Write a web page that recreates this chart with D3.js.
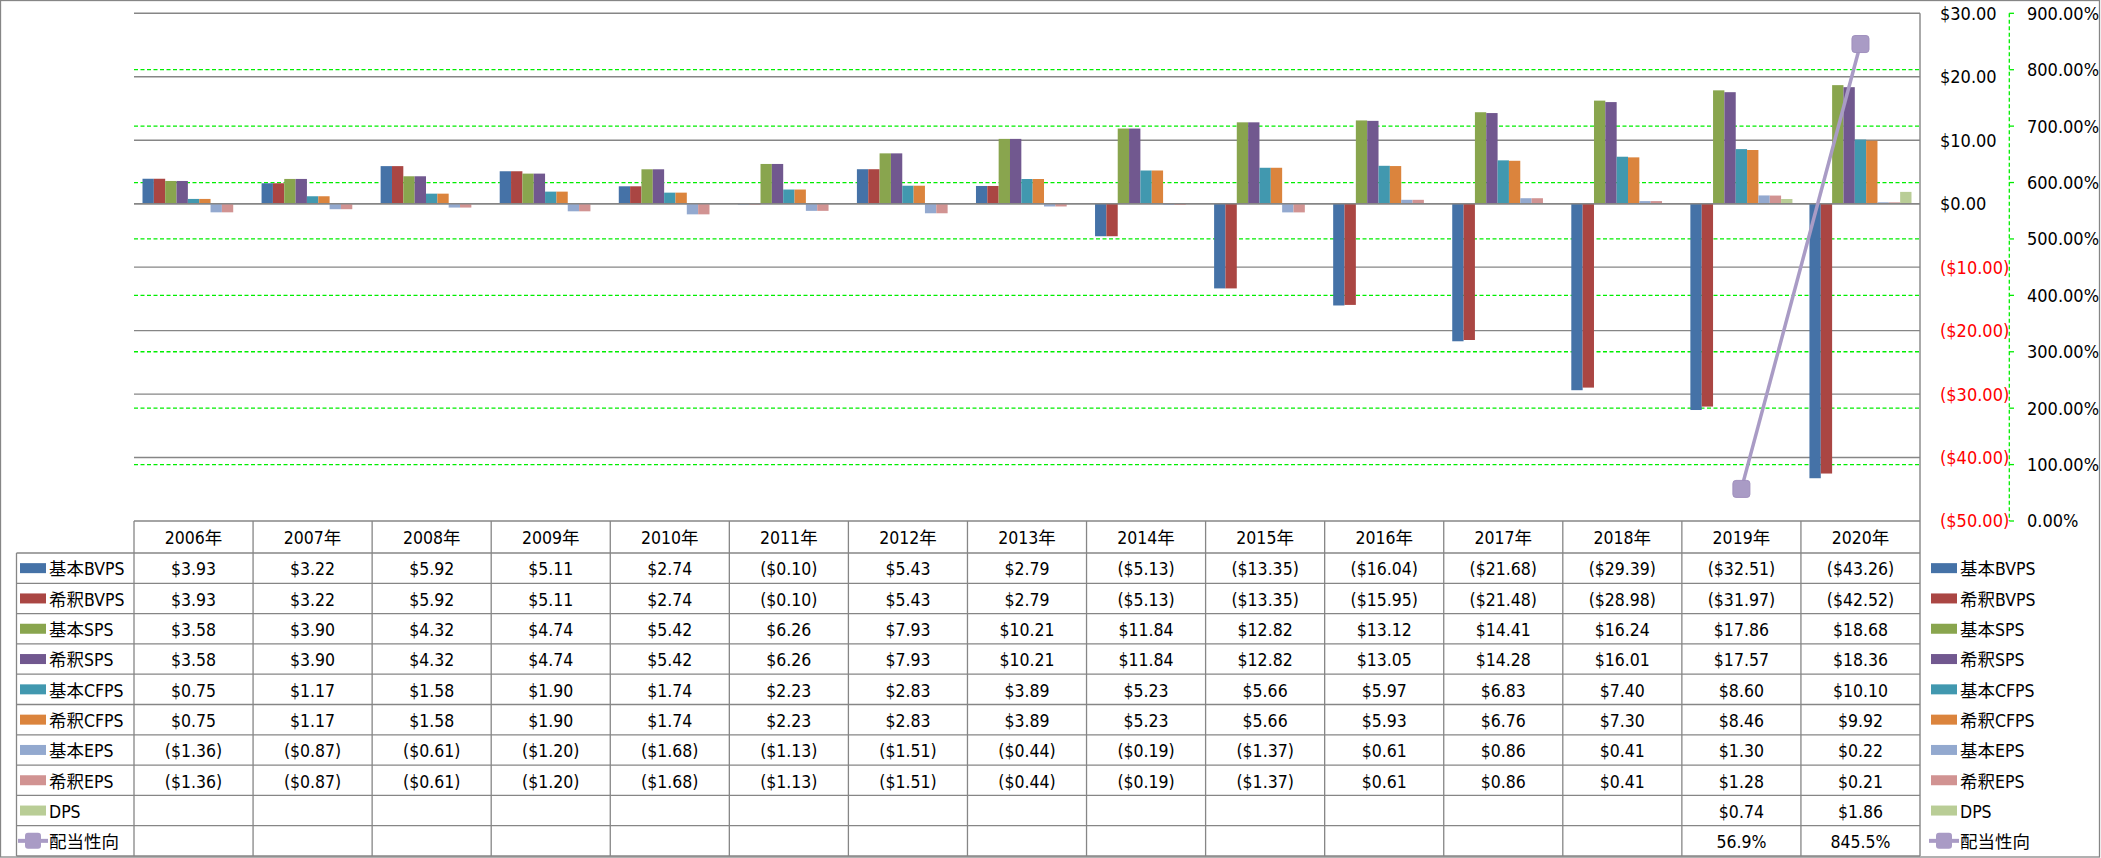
<!DOCTYPE html>
<html><head><meta charset="utf-8">
<script src="https://cdn.jsdelivr.net/npm/d3@7"></script>
<style>
html,body{margin:0;padding:0;background:#fff;}
svg{display:block;}
text{font-family:"DejaVu Sans Condensed","Noto Sans CJK JP",sans-serif;}
</style></head>
<body>
<svg id="chart" width="2101" height="858"></svg>
<script>
const years = ["2006年","2007年","2008年","2009年","2010年","2011年","2012年","2013年","2014年","2015年","2016年","2017年","2018年","2019年","2020年"];
const basicBVPS   = [3.93,3.22,5.92,5.11,2.74,-0.10,5.43,2.79,-5.13,-13.35,-16.04,-21.68,-29.39,-32.51,-43.26];
const dilutedBVPS = [3.93,3.22,5.92,5.11,2.74,-0.10,5.43,2.79,-5.13,-13.35,-15.95,-21.48,-28.98,-31.97,-42.52];
const basicSPS    = [3.58,3.90,4.32,4.74,5.42,6.26,7.93,10.21,11.84,12.82,13.12,14.41,16.24,17.86,18.68];
const dilutedSPS  = [3.58,3.90,4.32,4.74,5.42,6.26,7.93,10.21,11.84,12.82,13.05,14.28,16.01,17.57,18.36];
const basicCFPS   = [0.75,1.17,1.58,1.90,1.74,2.23,2.83,3.89,5.23,5.66,5.97,6.83,7.40,8.60,10.10];
const dilutedCFPS = [0.75,1.17,1.58,1.90,1.74,2.23,2.83,3.89,5.23,5.66,5.93,6.76,7.30,8.46,9.92];
const basicEPS    = [-1.36,-0.87,-0.61,-1.20,-1.68,-1.13,-1.51,-0.44,-0.19,-1.37,0.61,0.86,0.41,1.30,0.22];
const dilutedEPS  = [-1.36,-0.87,-0.61,-1.20,-1.68,-1.13,-1.51,-0.44,-0.19,-1.37,0.61,0.86,0.41,1.28,0.21];
const dps         = [null,null,null,null,null,null,null,null,null,null,null,null,null,0.74,1.86];
const payoutRatio = [null,null,null,null,null,null,null,null,null,null,null,null,null,56.9,845.5];

const seriesNames  = ["基本BVPS","希釈BVPS","基本SPS","希釈SPS","基本CFPS","希釈CFPS","基本EPS","希釈EPS","DPS"];
const seriesValues = [basicBVPS,dilutedBVPS,basicSPS,dilutedSPS,basicCFPS,dilutedCFPS,basicEPS,dilutedEPS,dps];
const seriesColors = ["#4572A7","#AA4643","#89A54E","#71588F","#4198AF","#DB843D","#93A9CF","#D19392","#B9CD96"];
const lineName = "配当性向";
const lineColor = "#A99BC5";

const leftTicks  = [30,20,10,0,-10,-20,-30,-40,-50];
const rightTicks = [900,800,700,600,500,400,300,200,100,0];

const svg = d3.select("#chart");
const L = 134, R = 1920, T = 13.3, B = 521;
const gray = "#868686";

const fmtMoney = v => v == null ? "" : (v < 0 ? "($" + Math.abs(v).toFixed(2) + ")" : "$" + v.toFixed(2));
const fmtPct = v => v == null ? "" : v.toFixed(1) + "%";

const x = d3.scaleBand().domain(years).range([L, R]).paddingInner(0).paddingOuter(0);
const xs = d3.scaleBand().domain(seriesNames).range([0, x.bandwidth()]).paddingInner(0).paddingOuter(0.75);
const y = d3.scaleLinear().domain([-50, 30]).range([B, T]);
const y2 = d3.scaleLinear().domain([0, 900]).range([B, T]);

// outer border
svg.append("rect").attr("x",0.5).attr("y",0.5).attr("width",2099).attr("height",856.5)
  .attr("fill","none").attr("stroke",gray).attr("stroke-width",1.3);

// primary gridlines
svg.append("g").selectAll("line").data(leftTicks.filter(t => t > -50)).join("line")
  .attr("x1",L).attr("x2",R).attr("y1",d=>y(d)).attr("y2",d=>y(d))
  .attr("stroke",gray).attr("stroke-width",1.4);
// secondary gridlines
svg.append("g").selectAll("line").data(rightTicks.filter(t => t > 0 && t < 900)).join("line")
  .attr("x1",L).attr("x2",R).attr("y1",d=>y2(d)).attr("y2",d=>y2(d))
  .attr("stroke","#00EE00").attr("stroke-width",1.3).attr("stroke-dasharray","4,2.5");

// bars
const gBars = svg.append("g");
seriesNames.forEach((name, si) => {
  gBars.append("g").selectAll("rect")
    .data(years.map((yr, i) => ({yr, v: seriesValues[si][i]})).filter(d => d.v != null))
    .join("rect")
    .attr("x", d => x(d.yr) + xs(name))
    .attr("width", xs.bandwidth())
    .attr("y", d => Math.min(y(d.v), y(0)))
    .attr("height", d => Math.abs(y(d.v) - y(0)))
    .attr("fill", seriesColors[si]);
});

// zero axis line on top
svg.append("line").attr("x1",L).attr("x2",R).attr("y1",y(0)).attr("y2",y(0)).attr("stroke",gray).attr("stroke-width",1.4);

// payout line
const linePts = years.map((yr,i)=>({yr, v: payoutRatio[i]})).filter(d=>d.v!=null);
svg.append("path").datum(linePts)
  .attr("d", d3.line().x(d=>x(d.yr)+x.bandwidth()/2).y(d=>y2(d.v)))
  .attr("fill","none").attr("stroke",lineColor).attr("stroke-width",3.5);
svg.append("g").selectAll("rect").data(linePts).join("rect")
  .attr("x",d=>x(d.yr)+x.bandwidth()/2-8.5).attr("y",d=>y2(d.v)-8.5)
  .attr("width",17).attr("height",17).attr("rx",3)
  .attr("fill",lineColor).attr("stroke","#A090BE").attr("stroke-width",1);

// right plot boundary / primary axis line
svg.append("line").attr("x1",R).attr("x2",R).attr("y1",T).attr("y2",856).attr("stroke",gray).attr("stroke-width",1.4);

// primary axis labels
svg.append("g").selectAll("text").data(leftTicks).join("text")
  .attr("x",1940).attr("y",d=>y(d)).attr("dy","0.36em")
  .attr("font-size",18).attr("fill",d=>d<0?"#FF0000":"#000")
  .text(d=>fmtMoney(d));

// secondary axis
svg.append("line").attr("x1",2009.3).attr("x2",2009.3).attr("y1",T).attr("y2",B)
  .attr("stroke","#00EE00").attr("stroke-width",1.3).attr("stroke-dasharray","4,2.5");
svg.append("g").selectAll("line").data(rightTicks).join("line")
  .attr("x1",2009.3).attr("x2",2014).attr("y1",d=>y2(d)).attr("y2",d=>y2(d))
  .attr("stroke","#00EE00").attr("stroke-width",1.3);
svg.append("g").selectAll("text").data(rightTicks).join("text")
  .attr("x",2027).attr("y",d=>y2(d)).attr("dy","0.36em")
  .attr("font-size",18).attr("fill","#000")
  .text(d=>d.toFixed(2)+"%");

// data table
const headTop = 521, headBot = 553, rowH = 30.3, nRows = 10, tblBot = headBot + rowH*nRows;
const LegL = 16.5;
const gT = svg.append("g");
// header top line
gT.append("line").attr("x1",L).attr("x2",R).attr("y1",headTop).attr("y2",headTop).attr("stroke",gray).attr("stroke-width",1.3);
// row lines
d3.range(nRows+1).forEach(i=>{
  const yy = headBot + i*rowH;
  gT.append("line").attr("x1",LegL).attr("x2",R).attr("y1",yy).attr("y2",yy).attr("stroke",gray).attr("stroke-width",1.3);
});
// vertical lines
years.forEach(yr=>{
  gT.append("line").attr("x1",x(yr)).attr("x2",x(yr)).attr("y1",headTop).attr("y2",tblBot).attr("stroke",gray).attr("stroke-width",1.3);
});
gT.append("line").attr("x1",LegL).attr("x2",LegL).attr("y1",headBot).attr("y2",tblBot).attr("stroke",gray).attr("stroke-width",1.3);

// header text
gT.append("g").selectAll("text").data(years).join("text")
  .attr("x",d=>x(d)+x.bandwidth()/2).attr("y",(headTop+headBot)/2+1).attr("dy","0.36em")
  .attr("text-anchor","middle").attr("font-size",17.5).text(d=>d);

const allRows = seriesNames.map((n,i)=>({name:n, vals:seriesValues[i], color:seriesColors[i], fmt:fmtMoney, type:"bar"}))
  .concat([{name:lineName, vals:payoutRatio, color:lineColor, fmt:fmtPct, type:"line"}]);

allRows.forEach((row, ri)=>{
  const cy = headBot + ri*rowH + rowH/2;
  gT.append("g").selectAll("text").data(years.map((yr,i)=>({yr, v:row.vals[i]}))).join("text")
    .attr("x",d=>x(d.yr)+x.bandwidth()/2).attr("y",cy+1).attr("dy","0.36em")
    .attr("text-anchor","middle").attr("font-size",17.5).text(d=>row.fmt(d.v));
  // legend keys: left and right
  [[20,49],[1931,1960]].forEach(([sx,tx])=>{
    if(row.type==="bar"){
      gT.append("rect").attr("x",sx).attr("y",cy-5).attr("width",26).attr("height",10).attr("fill",row.color);
    } else {
      gT.append("line").attr("x1",sx-2).attr("x2",sx+28).attr("y1",cy).attr("y2",cy).attr("stroke",row.color).attr("stroke-width",4);
      gT.append("rect").attr("x",sx+5).attr("y",cy-8).attr("width",16).attr("height",16).attr("rx",3).attr("fill",row.color);
    }
    gT.append("text").attr("x",tx).attr("y",cy+1).attr("dy","0.36em").attr("font-size",17.5).text(row.name);
  });
});
</script>
</body></html>
